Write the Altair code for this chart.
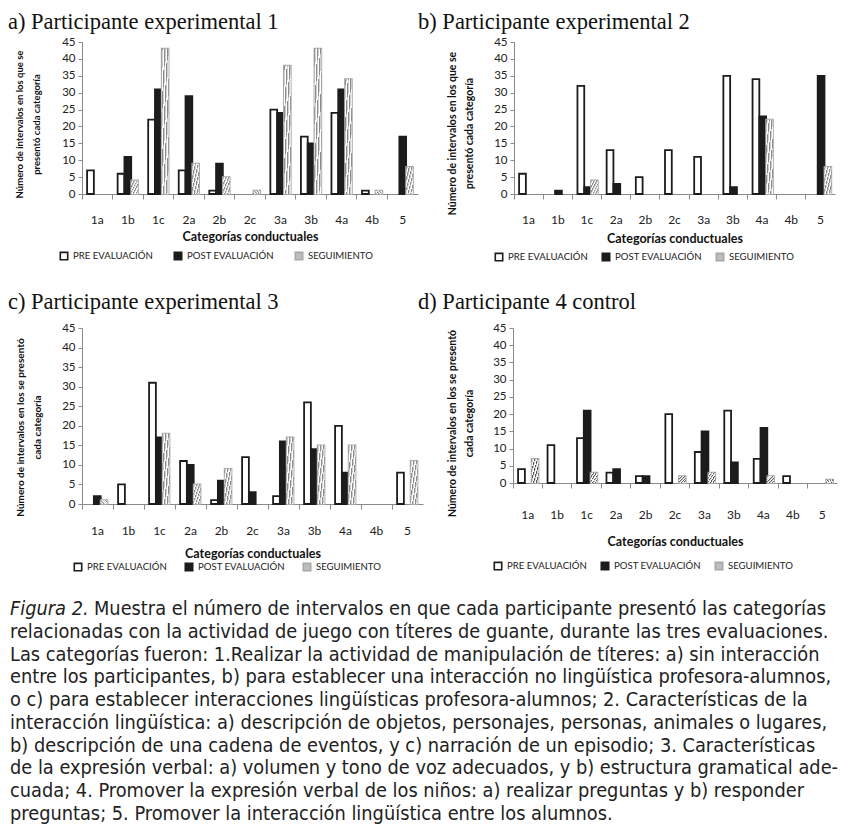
import altair as alt
import pandas as pd

categories = ["1a", "1b", "1c", "2a", "2b", "2c", "3a", "3b", "4a", "4b", "5"]
series = ["PRE EVALUACIÓN", "POST EVALUACIÓN", "SEGUIMIENTO"]

a_pre = [7, 6, 22, 7, 1, 0, 25, 17, 24, 1, 0]
a_post = [0, 11, 31, 29, 9, 0, 24, 15, 31, 0, 17]
a_seg = [0, 4, 43, 9, 5, 1, 38, 43, 34, 1, 8]

b_pre = [6, 0, 32, 13, 5, 13, 11, 35, 34, 0, 0]
b_post = [0, 1, 2, 3, 0, 0, 0, 2, 23, 0, 35]
b_seg = [0, 0, 4, 0, 0, 0, 0, 0, 22, 0, 8]

c_pre = [0, 5, 31, 11, 1, 12, 2, 26, 20, 0, 8]
c_post = [2, 0, 17, 10, 6, 3, 16, 14, 8, 0, 0]
c_seg = [1, 0, 18, 5, 9, 0, 17, 15, 15, 0, 11]

d_pre = [4, 11, 13, 3, 2, 20, 9, 21, 7, 2, 0]
d_post = [0, 0, 21, 4, 2, 0, 15, 6, 16, 0, 0]
d_seg = [7, 0, 3, 0, 0, 2, 3, 0, 2, 0, 1]

titles = [
    "a) Participante  experimental 1",
    "b)  Participante experimental 2",
    "c) Participante experimental 3",
    "d) Participante 4 control",
]
ytitles = [
    ["Número de intervalos en los que se", "presentó cada categoría"],
    ["Número de intervalos en los que se", "presentó cada categoría"],
    ["Número de intervalos en los se presentó", "cada categoría"],
    ["Número de intervalos en los se presentó", "cada categoría"],
]
xtitle = "Categorías conductuales"

caption_first_italic = "Figura 2."
caption_first_rest = "Muestra el número de intervalos en que cada participante presentó las categorías"
caption_lines = [
    "relacionadas con la actividad de juego con títeres de guante,  durante las tres evaluaciones.",
    "Las categorías fueron: 1.Realizar la actividad de manipulación de títeres: a) sin interacción",
    "entre los participantes, b) para establecer una interacción no lingüística profesora-alumnos,",
    "o c) para establecer interacciones lingüísticas profesora-alumnos; 2. Características de la",
    "interacción lingüística: a) descripción de objetos, personajes, personas, animales o lugares,",
    "b) descripción de una cadena de eventos, y c) narración de un episodio; 3. Características",
    "de la expresión verbal: a) volumen y tono de voz adecuados, y b) estructura gramatical ade-",
    "cuada;  4. Promover la expresión verbal de los niños: a) realizar preguntas y b) responder",
    "preguntas; 5. Promover la interacción lingüística entre los alumnos.",
]

SANS = "Lato"
SERIF = "Liberation Serif"
AXIS_GRAY = "#8a8a8a"


def make_hatch(dark):
    stops = []
    period = 0.2
    k = 0
    while k * period < 1.0:
        s = k * period
        stops += [
            {"offset": round(s, 4), "color": dark},
            {"offset": round(min(s + 0.06, 1), 4), "color": dark},
            {"offset": round(min(s + 0.06, 1), 4), "color": "#cfcfcf"},
            {"offset": round(min(s + 0.12, 1), 4), "color": "#cfcfcf"},
            {"offset": round(min(s + 0.12, 1), 4), "color": "#ffffff"},
            {"offset": round(min(s + 0.2, 1), 4), "color": "#ffffff"},
        ]
        k += 1
    return {"gradient": "linear", "x1": 0, "y1": 0, "x2": 1, "y2": 1, "stops": stops}


def panel(pre, post, seg, title, ytitle, cfg):
    rows = []
    for i, c in enumerate(categories):
        for s, vals in zip(series, (pre, post, seg)):
            if vals[i] > 0:
                rows.append({"cat": c, "serie": s, "v": vals[i]})
    df = pd.DataFrame(rows)
    xscale = alt.Scale(domain=categories, paddingInner=0, paddingOuter=0)
    yscale = alt.Scale(domain=[0, 45])
    xoff = alt.XOffset("serie:N", scale=alt.Scale(domain=series, paddingOuter=0.75))
    ytitle_common = dict(
        titleFont=SANS,
        titleFontSize=cfg["yt_size"],
        titleFontWeight="bold",
        titleColor="#111",
        titleAngle=270,
        titleBaseline="middle",
        titleAlign="center",
        titleY=cfg["yt_y"],
        grid=False,
    )
    y_main = alt.Y(
        "v:Q",
        scale=yscale,
        axis=alt.Axis(
            orient="left",
            values=list(range(0, 50, 5)),
            title=ytitle[1],
            titleX=cfg["yt_x2"],
            labelFont=SANS,
            labelFontSize=11.5,
            labelColor="#222",
            labelPadding=3,
            tickSize=4,
            tickColor=AXIS_GRAY,
            domainColor=AXIS_GRAY,
            **ytitle_common,
        ),
    )
    y_second = alt.Y(
        "v:Q",
        scale=yscale,
        axis=alt.Axis(
            orient="left",
            title=ytitle[0],
            titleX=cfg["yt_x1"],
            labels=False,
            ticks=False,
            domain=False,
            **ytitle_common,
        ),
    )
    legend = alt.Legend(
        title=None,
        orient="none",
        legendX=cfg["leg_x"],
        legendY=cfg["leg_y"],
        direction="horizontal",
        symbolType="square",
        symbolSize=55,
        symbolStrokeWidth=1.6,
        labelFont=SANS,
        labelFontSize=9.6,
        labelColor="#222",
        columnPadding=cfg["leg_pad"],
        labelLimit=300,
    )
    base = alt.Chart(df)
    bars = base.mark_bar(strokeWidth=1.8).encode(
        x=alt.X(
            "cat:N",
            scale=xscale,
            axis=alt.Axis(
                orient="bottom",
                title=xtitle,
                titleFont=SANS,
                titleFontSize=12.5,
                titleFontWeight="bold",
                titleColor="#111",
                titleY=cfg["xt_y"],
                titleBaseline="middle",
                labels=False,
                ticks=True,
                tickSize=5,
                bandPosition=0,
                tickColor=AXIS_GRAY,
                domainColor=AXIS_GRAY,
                grid=False,
            ),
        ),
        xOffset=xoff,
        y=y_main,
        fill=alt.Fill(
            "serie:N",
            scale=alt.Scale(domain=series, range=["#ffffff", "#1c1c1c", "#bdbdbd"]),
            legend=legend,
        ),
        stroke=alt.Stroke(
            "serie:N",
            scale=alt.Scale(domain=series, range=["#1c1c1c", "#1c1c1c", "#a8a8a8"]),
            legend=legend,
        ),
    )
    hatched = base.transform_filter(alt.datum.serie == "SEGUIMIENTO").mark_bar(
        fill=make_hatch(cfg["hatch_dark"]), strokeWidth=0
    ).encode(
        x=alt.X(
            "cat:N",
            scale=xscale,
            axis=alt.Axis(
                orient="bottom",
                title=None,
                labels=True,
                ticks=False,
                tickSize=0,
                domain=False,
                labelPadding=cfg["lab_pad"],
                labelFont=SANS,
                labelFontSize=12,
                labelColor="#222",
                labelAngle=0,
                grid=False,
            ),
        ),
        xOffset=xoff,
        y=y_second,
    )
    return (
        alt.layer(bars, hatched)
        .resolve_axis(x="independent", y="independent")
        .properties(
            width=cfg["w"],
            height=cfg["h"],
            title=alt.TitleParams(
                title,
                anchor="start",
                frame=cfg["t_frame"],
                dx=cfg["t_dx"],
                offset=cfg["t_off"],
                font=SERIF,
                fontSize=22.5,
                fontWeight="normal",
                color="#111",
                baseline="alphabetic",
            ),
        )
    )


cfgs = [
    dict(w=336, h=152, yt_size=9.5, yt_x1=-63, yt_x2=-46, yt_y=82, xt_y=42, lab_pad=20,
         leg_x=-23, leg_y=209, leg_pad=18, t_frame="group", t_dx=-74, t_off=-15.3,
         hatch_dark="#8c8c8c"),
    dict(w=321, h=152, yt_size=10.5, yt_x1=-62, yt_x2=-45, yt_y=91, xt_y=44, lab_pad=20,
         leg_x=-20, leg_y=210, leg_pad=11, t_frame="bounds", t_dx=-29, t_off=-15.3,
         hatch_dark="#8c8c8c"),
    dict(w=341, h=176, yt_size=10, yt_x1=-62, yt_x2=-45, yt_y=99, xt_y=49, lab_pad=21,
         leg_x=-9, leg_y=234, leg_pad=15, t_frame="group", t_dx=-74, t_off=-9.05,
         hatch_dark="#8c8c8c"),
    dict(w=324, h=155, yt_size=10.5, yt_x1=-61, yt_x2=-44, yt_y=95, xt_y=58, lab_pad=26,
         leg_x=-20, leg_y=233, leg_pad=11, t_frame="bounds", t_dx=-29, t_off=-9.05,
         hatch_dark="#5a5a5a"),
]

pa = panel(a_pre, a_post, a_seg, titles[0], ytitles[0], cfgs[0])
pb = panel(b_pre, b_post, b_seg, titles[1], ytitles[1], cfgs[1])
pc = panel(c_pre, c_post, c_seg, titles[2], ytitles[2], cfgs[2])
pd_ = panel(d_pre, d_post, d_seg, titles[3], ytitles[3], cfgs[3])

CAP_X = -72
CAP_SIZE = 19.8
CAP_FONT = "Liberation Sans Narrow, DejaVu Sans Condensed, Lato"
cap_df = pd.DataFrame({"i": list(range(1, 10)), "t": caption_lines})
first_df = pd.DataFrame({"i": [0], "a": [caption_first_italic], "b": [caption_first_rest]})
cap_scale = alt.Scale(domain=[0, 9], range=[0, 205])
cap_rest = alt.Chart(cap_df).mark_text(
    align="left", baseline="middle", font=CAP_FONT, fontSize=CAP_SIZE, color="#222"
).encode(x=alt.value(CAP_X), y=alt.Y("i:Q", scale=cap_scale, axis=None), text="t:N")
cap_it = alt.Chart(first_df).mark_text(
    align="left", baseline="middle", font=CAP_FONT, fontSize=CAP_SIZE, fontStyle="italic", color="#222"
).encode(x=alt.value(CAP_X), y=alt.Y("i:Q", scale=cap_scale, axis=None), text="a:N")
cap_b = alt.Chart(first_df).mark_text(
    align="left", baseline="middle", font=CAP_FONT, fontSize=CAP_SIZE, color="#222", dx=84
).encode(x=alt.value(CAP_X), y=alt.Y("i:Q", scale=cap_scale, axis=None), text="b:N")
caption = alt.layer(cap_it, cap_b, cap_rest).properties(width=600, height=205)

row1 = (
    alt.hconcat(pa, pb, spacing=0)
    .resolve_scale(fill="independent", stroke="independent")
    .resolve_legend(fill="independent", stroke="independent")
)
row2 = (
    alt.hconcat(pc, pd_, spacing=-5)
    .resolve_scale(fill="independent", stroke="independent")
    .resolve_legend(fill="independent", stroke="independent")
)
lower = (
    alt.vconcat(row2, caption, spacing=25)
    .resolve_scale(fill="independent", stroke="independent")
    .resolve_legend(fill="independent", stroke="independent")
)
chart = (
    alt.vconcat(row1, lower, spacing=26)
    .resolve_scale(fill="independent", stroke="independent")
    .resolve_legend(fill="independent", stroke="independent")
    .properties(padding={"left": 0, "top": 2, "right": 0, "bottom": 0})
    .configure_view(stroke=None)
    .configure_axis(labelFont=SANS)
)

chart.save("out.html", embed_options={"renderer": "svg", "actions": False})
